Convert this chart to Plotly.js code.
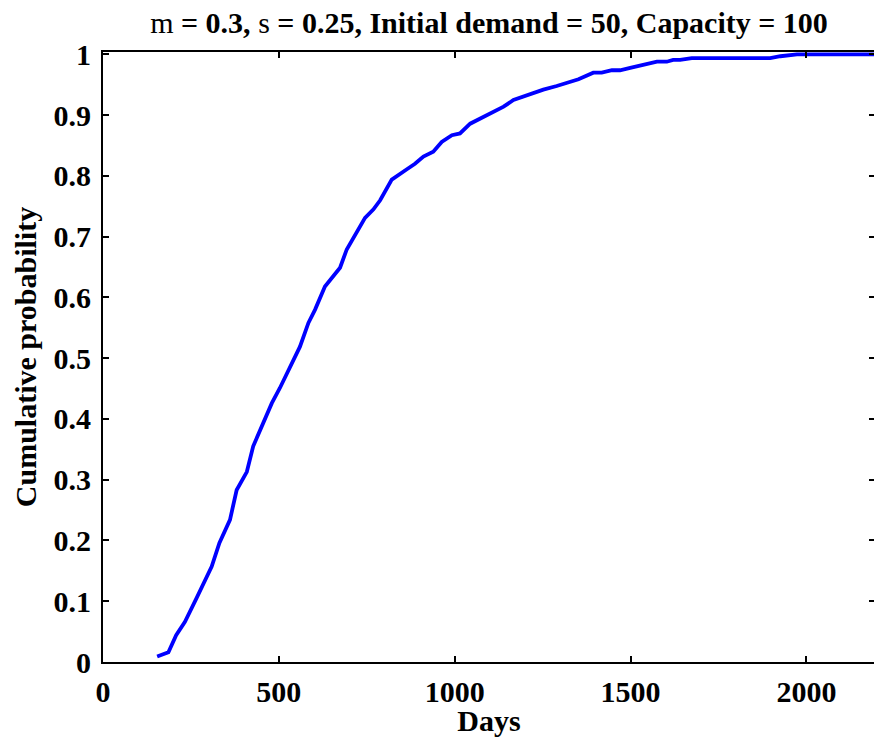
<!DOCTYPE html>
<html>
<head>
<meta charset="utf-8">
<script src="https://cdn.plot.ly/plotly-3.0.1.min.js"></script>
<style>
html,body{margin:0;padding:0;overflow:hidden;background:#fff;}
#chart{width:878px;height:737px;}
</style>
</head>
<body>
<div id="chart"></div>
<script>
// Days (x) and cumulative probability (y)
const days = [154,186,208,233,266,309,331,361,380,409,427,451,480,503,532,560,584,603,631,660,674,693,717,745,769,788,821,835,864,887,911,939,963,992,1015,1044,1072,1110,1139,1167,1195,1224,1252,1290,1323,1352,1394,1418,1447,1470,1499,1527,1546,1575,1603,1621,1641,1674,1897,1926,1973,2195];
const cumProb = [0.009,0.016,0.044,0.066,0.105,0.157,0.196,0.234,0.283,0.313,0.355,0.388,0.426,0.451,0.487,0.519,0.558,0.580,0.618,0.638,0.649,0.679,0.704,0.731,0.745,0.760,0.794,0.800,0.811,0.820,0.832,0.840,0.856,0.867,0.870,0.886,0.894,0.904,0.914,0.925,0.931,0.936,0.942,0.948,0.954,0.959,0.970,0.970,0.974,0.974,0.978,0.982,0.985,0.988,0.988,0.991,0.991,0.994,0.994,0.997,1.0,1.0];
const xTicks = [0,500,1000,1500,2000];
const yTicks = [0,0.1,0.2,0.3,0.4,0.5,0.6,0.7,0.8,0.9,1];
const yTickText = ['0','0.1','0.2','0.3','0.4','0.5','0.6','0.7','0.8','0.9','1'];
const titleText = '<span style="font-weight:normal">m</span> = 0.3, <span style="font-weight:normal">s</span> = 0.25, Initial demand = 50, Capacity = 100';

const F = 'Liberation Serif, Times New Roman, serif';
const trace = {
  x: days, y: cumProb, type: 'scatter', mode: 'lines',
  line: {color: '#0000ff', width: 3.8}, hoverinfo: 'skip'
};
const axisCommon = {
  showline: true, linecolor: '#000', linewidth: 2, mirror: 'ticks',
  ticks: 'inside', ticklen: 6, tickwidth: 2, tickcolor: '#000',
  showgrid: false, zeroline: false
};
const layout = {
  width: 878, height: 737,
  margin: {l: 103, r: 3, t: 52, b: 75},
  paper_bgcolor: '#fff', plot_bgcolor: '#fff',
  showlegend: false,
  title: {text: titleText, x: 0.5, xref: 'paper', y: 0.97, yref: 'container', yanchor: 'middle',
          font: {family: F, size: 30, color: '#000', weight: 'bold'}},
  xaxis: Object.assign({}, axisCommon, {
    range: [0, 2195], tickvals: xTicks, ticktext: xTicks.map(String), ticklabelstandoff: 2,
    tickfont: {family: F, size: 30, color: '#000', weight: 'bold'},
    title: {text: 'Days', standoff: 2, font: {family: F, size: 30, color: '#000', weight: 'bold'}}
  }),
  yaxis: Object.assign({}, axisCommon, {
    range: [0, 1.004], tickvals: yTicks, ticktext: yTickText, ticklabelstandoff: 4,
    tickfont: {family: F, size: 30, color: '#000', weight: 'bold'},
    title: {text: 'Cumulative probability', standoff: 8, font: {family: F, size: 30, color: '#000', weight: 'bold'}}
  })
};
Plotly.newPlot('chart', [trace], layout, {displayModeBar: false, staticPlot: true});
</script>
</body>
</html>
